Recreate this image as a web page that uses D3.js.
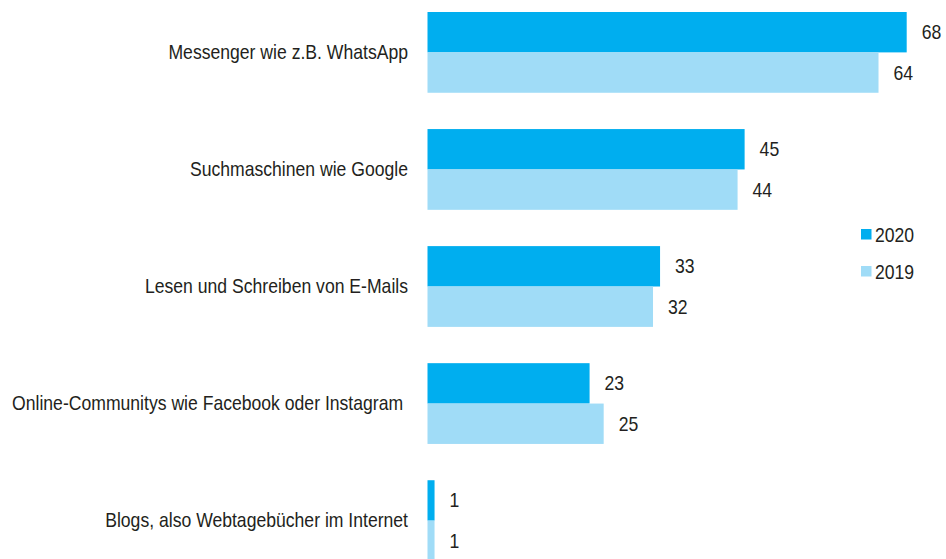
<!DOCTYPE html>
<html>
<head>
<meta charset="utf-8">
<style>
  body { margin: 0; background: #fff; }
  text {
    font-family: "Liberation Sans", Arial, sans-serif;
    fill: #231f20;
    font-size: 20px;
    white-space: pre;
  }
</style>
</head>
<body>
<script src="https://d3js.org/d3.v7.min.js"></script>
<script>

var width = 946,
    height = 559;

// data
var categories = [
  "Messenger wie z.B. WhatsApp",
  "Suchmaschinen wie Google",
  "Lesen und Schreiben von E-Mails",
  "Online-Communitys wie Facebook oder Instagram ",
  "Blogs, also Webtagebücher im Internet"
];
var years = ["2020", "2019"];
var values2020 = [68, 45, 33, 23, 1];
var values2019 = [64, 44, 32, 25, 1];

var colors = { "2020": "#00aeef", "2019": "#a0dcf7" };

// condensed look: squeeze the text horizontally
var squeeze = 0.88;

var svg = d3.select("body").append("svg")
    .attr("width", width)
    .attr("height", height);

var x = d3.scaleLinear()
    .domain([0, 68])
    .range([427.5, 906.7]);

var y = d3.scaleBand()
    .domain(categories)
    .range([12, 561])
    .paddingInner(0.31)
    .paddingOuter(0);

var ySub = d3.scaleBand()
    .domain(years)
    .range([0, y.bandwidth()]);

var rows = categories.map(function(c, i) {
  return { name: c, vals: [
    { year: "2020", value: values2020[i] },
    { year: "2019", value: values2019[i] }
  ]};
});

var groups = svg.selectAll(".group")
    .data(rows)
    .enter()
    .append("g")
    .attr("class", "group")
    .attr("transform", function(d) { return "translate(0," + y(d.name) + ")"; });

groups.selectAll("rect")
    .data(function(d) { return d.vals; })
    .enter()
    .append("rect")
    .attr("x", x(0))
    .attr("y", function(d) { return ySub(d.year); })
    .attr("width", function(d) { return x(d.value) - x(0); })
    .attr("height", ySub.bandwidth())
    .attr("fill", function(d) { return colors[d.year]; });

groups.selectAll(".val")
    .data(function(d) { return d.vals; })
    .enter()
    .append("text")
    .attr("class", "val")
    .attr("transform", function(d) {
      return "translate(" + (x(d.value) + 15) + "," + (ySub(d.year) + ySub.bandwidth() / 2) + ") scale(" + squeeze + ",1)";
    })
    .attr("dy", "0.35em")
    .text(function(d) { return d.value; });

groups.append("text")
    .attr("class", "cat")
    .attr("transform", "translate(408," + (y.bandwidth() / 2 - 0.5) + ") scale(" + squeeze + ",1)")
    .attr("dy", "0.35em")
    .attr("text-anchor", "end")
    .text(function(d) { return d.name; });

// legend
var legend = svg.append("g")
    .attr("transform", "translate(861,229)");

var items = legend.selectAll("g")
    .data(years)
    .enter()
    .append("g")
    .attr("transform", function(d, i) { return "translate(0," + (i * 37) + ")"; });

items.append("rect")
    .attr("width", 10.5)
    .attr("height", 10.5)
    .attr("fill", function(d) { return colors[d]; });

items.append("text")
    .attr("transform", "translate(14,5.5) scale(" + squeeze + ",1)")
    .attr("dy", "0.35em")
    .text(function(d) { return d; });

</script>
</body>
</html>
